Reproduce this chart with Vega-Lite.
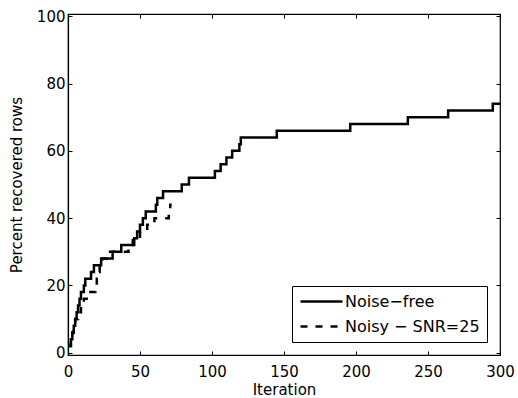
{
  "$schema": "https://vega.github.io/schema/vega-lite/v6.json",
  "autosize": "none",
  "width": 432,
  "height": 341,
  "padding": {"left": 68, "top": 14, "right": 18, "bottom": 43},
  "background": "white",
  "config": {
    "view": {"stroke": "black", "strokeWidth": 1.2},
    "font": "DejaVu Sans",
    "axis": {
      "domainColor": "black", "domainWidth": 1.2,
      "tickColor": "black", "tickWidth": 1, "tickSize": -4,
      "labelFont": "DejaVu Sans", "labelFontSize": 15, "labelColor": "black",
      "titleFont": "DejaVu Sans", "titleFontSize": 15, "titleFontWeight": "normal", "titleColor": "black",
      "grid": false
    }
  },
  "datasets": {
    "rows": [
      {"s": "Noise−free", "x": 0, "y": 2},
      {"s": "Noise−free", "x": 2, "y": 4},
      {"s": "Noise−free", "x": 3, "y": 6},
      {"s": "Noise−free", "x": 4, "y": 8},
      {"s": "Noise−free", "x": 5, "y": 10},
      {"s": "Noise−free", "x": 6, "y": 12},
      {"s": "Noise−free", "x": 7, "y": 14},
      {"s": "Noise−free", "x": 8, "y": 16},
      {"s": "Noise−free", "x": 9, "y": 18},
      {"s": "Noise−free", "x": 11, "y": 20},
      {"s": "Noise−free", "x": 12, "y": 22},
      {"s": "Noise−free", "x": 16, "y": 24},
      {"s": "Noise−free", "x": 18, "y": 26},
      {"s": "Noise−free", "x": 23, "y": 28},
      {"s": "Noise−free", "x": 31, "y": 30},
      {"s": "Noise−free", "x": 37, "y": 32},
      {"s": "Noise−free", "x": 46, "y": 34},
      {"s": "Noise−free", "x": 48, "y": 36},
      {"s": "Noise−free", "x": 50, "y": 38},
      {"s": "Noise−free", "x": 52, "y": 40},
      {"s": "Noise−free", "x": 54, "y": 42},
      {"s": "Noise−free", "x": 61, "y": 44},
      {"s": "Noise−free", "x": 62, "y": 46},
      {"s": "Noise−free", "x": 66, "y": 48},
      {"s": "Noise−free", "x": 79, "y": 50},
      {"s": "Noise−free", "x": 84, "y": 52},
      {"s": "Noise−free", "x": 102, "y": 54},
      {"s": "Noise−free", "x": 106, "y": 56},
      {"s": "Noise−free", "x": 110, "y": 58},
      {"s": "Noise−free", "x": 114, "y": 60},
      {"s": "Noise−free", "x": 119, "y": 62},
      {"s": "Noise−free", "x": 120, "y": 64},
      {"s": "Noise−free", "x": 145, "y": 66},
      {"s": "Noise−free", "x": 196, "y": 68},
      {"s": "Noise−free", "x": 236, "y": 70},
      {"s": "Noise−free", "x": 264, "y": 72},
      {"s": "Noise−free", "x": 295, "y": 74},
      {"s": "Noise−free", "x": 300, "y": 74},
      {"s": "Noisy − SNR=25", "x": 0, "y": 2},
      {"s": "Noisy − SNR=25", "x": 2, "y": 4},
      {"s": "Noisy − SNR=25", "x": 3, "y": 6},
      {"s": "Noisy − SNR=25", "x": 4, "y": 8},
      {"s": "Noisy − SNR=25", "x": 5, "y": 10},
      {"s": "Noisy − SNR=25", "x": 7, "y": 12},
      {"s": "Noisy − SNR=25", "x": 9, "y": 14},
      {"s": "Noisy − SNR=25", "x": 11, "y": 16},
      {"s": "Noisy − SNR=25", "x": 14, "y": 18},
      {"s": "Noisy − SNR=25", "x": 19, "y": 20},
      {"s": "Noisy − SNR=25", "x": 20, "y": 22},
      {"s": "Noisy − SNR=25", "x": 21, "y": 24},
      {"s": "Noisy − SNR=25", "x": 22, "y": 26},
      {"s": "Noisy − SNR=25", "x": 24, "y": 28},
      {"s": "Noisy − SNR=25", "x": 27, "y": 30},
      {"s": "Noisy − SNR=25", "x": 42, "y": 32},
      {"s": "Noisy − SNR=25", "x": 45, "y": 34},
      {"s": "Noisy − SNR=25", "x": 50, "y": 36},
      {"s": "Noisy − SNR=25", "x": 55, "y": 38},
      {"s": "Noisy − SNR=25", "x": 60, "y": 40},
      {"s": "Noisy − SNR=25", "x": 70, "y": 42},
      {"s": "Noisy − SNR=25", "x": 71, "y": 44},
      {"s": "Noisy − SNR=25", "x": 72, "y": 44}
    ]
  },
  "data": {"name": "rows"},
  "layer": [
    {
      "transform": [{"filter": "datum.s === 'Noise−free'"}],
      "mark": {"type": "line", "interpolate": "step-after", "color": "black", "strokeWidth": 2.5, "clip": true},
      "encoding": {
        "x": {"field": "x", "type": "quantitative", "scale": {"domain": [0, 300], "nice": false, "zero": false},
          "axis": {"values": [0, 50, 100, 150, 200, 250, 300], "title": "Iteration", "labelPadding": 13, "titlePadding": 3, "labelFlush": false}},
        "y": {"field": "y", "type": "quantitative", "scale": {"domain": [-0.7, 100.7], "nice": false, "zero": false},
          "axis": {"values": [0, 20, 40, 60, 80, 100], "title": "Percent recovered rows", "labelPadding": 7, "titlePadding": 12, "labelFlush": false}},
        "strokeDash": {"field": "s", "type": "nominal",
          "scale": {"domain": ["Noise−free", "Noisy − SNR=25"], "range": [[1, 0], [7, 8]]},
          "legend": {"orient": "none", "legendX": 224, "legendY": 272, "title": null,
            "strokeColor": "black", "fillColor": "white", "padding": 7,
            "labelFont": "DejaVu Sans", "labelFontSize": 16, "labelColor": "black", "labelLimit": 300, "labelOffset": 29,
            "symbolType": "M-1,0H5", "symbolSize": 196, "symbolStrokeWidth": 2.5, "symbolStrokeColor": "black",
            "rowPadding": 8}}
      }
    },
    {
      "transform": [{"filter": "datum.s !== 'Noise−free'"}],
      "mark": {"type": "line", "interpolate": "step-after", "color": "black", "strokeWidth": 2.5, "clip": true},
      "encoding": {
        "x": {"field": "x", "type": "quantitative",
          "axis": {"orient": "top", "values": [0, 50, 100, 150, 200, 250, 300], "labels": false, "title": null, "domain": false}},
        "y": {"field": "y", "type": "quantitative",
          "axis": {"orient": "right", "values": [0, 20, 40, 60, 80, 100], "labels": false, "title": null, "domain": false}},
        "strokeDash": {"field": "s", "type": "nominal"}
      }
    }
  ],
  "resolve": {"axis": {"x": "independent", "y": "independent"}}
}
